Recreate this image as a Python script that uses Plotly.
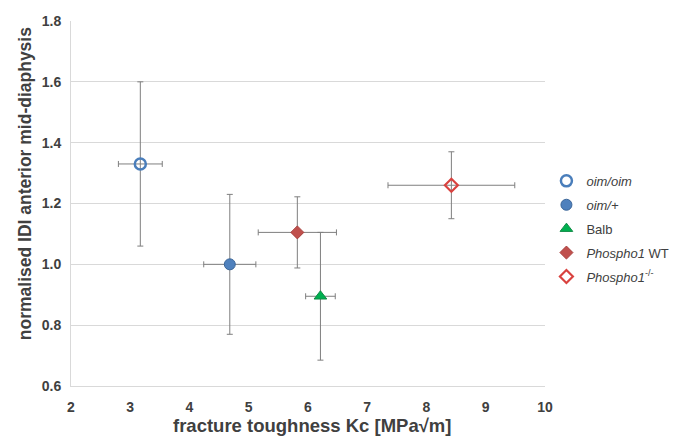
import plotly.graph_objects as go

names = ["<i>oim/oim</i>", "<i>oim/+</i>", "Balb", "<i>Phospho1</i> WT", "<i>Phospho1</i><sup>-/-</sup>"]
kc = [3.17, 4.68, 6.21, 5.82, 8.42]
kc_err = [0.37, 0.44, 0.25, 0.66, 1.07]
idi = [1.33, 1.00, 0.895, 1.105, 1.26]
idi_err = [0.27, 0.23, 0.21, 0.117, 0.11]

x_title = "fracture toughness Kc [MPa√m]"
y_title = "normalised IDI anterior mid-diaphysis"

symbols = ["circle-open", "circle", "triangle-up", "diamond", "diamond-open"]
fills = ["#4a7ebb", "#4f81bd", "#00b050", "#c0504d", "#d9423f"]
outlines = ["#4a7ebb", "#3b6699", "#0f8a45", "#a8413e", "#d9423f"]
lw = [2.5, 1, 1, 1, 2.2]
sizes = [11, 11, 11, 10, 10]

fig = go.Figure()
for i in range(len(names)):
    fig.add_trace(go.Scatter(
        x=[kc[i]], y=[idi[i]], mode="markers", name=names[i],
        legendgroup=str(i),
        marker=dict(symbol=symbols[i], size=sizes[i], color=fills[i],
                    line=dict(color=outlines[i], width=lw[i])),
        error_x=dict(type="data", array=[kc_err[i]], color="#7f7f7f", thickness=1, width=3),
        error_y=dict(type="data", array=[idi_err[i]], color="#7f7f7f", thickness=1, width=3),
    ))

fig.update_layout(
    width=677, height=437,
    margin=dict(l=71, r=132, t=21, b=51, autoexpand=False),
    paper_bgcolor="white", plot_bgcolor="white",
    font=dict(family="Liberation Sans, Arial, sans-serif", color="#404040"),
    showlegend=True,
    legend=dict(x=1.003, y=0.603, xanchor="left", yanchor="top",
                font=dict(size=13, color="#404040"), tracegroupgap=4,
                itemwidth=30, bgcolor="rgba(0,0,0,0)"),
    annotations=[
        dict(text="<b>" + y_title + "</b>", textangle=-90, xref="paper", yref="paper",
             x=-0.097, y=0.553, xanchor="center", yanchor="middle", showarrow=False,
             font=dict(size=17.5, color="#404040")),
        dict(text="<b>" + x_title + "</b>", xref="paper", yref="paper",
             x=0.508, y=-0.108, xanchor="center", yanchor="middle", showarrow=False,
             font=dict(size=18.5, color="#404040")),
    ],
)
fig.update_xaxes(
    range=[2, 10], dtick=1, tick0=2, showgrid=False, zeroline=False,
    showline=True, linecolor="#d9d9d9", linewidth=1, automargin=False,
    ticks="", ticklabelstandoff=8,
    tickfont=dict(size=14, color="#404040", weight="bold"),
)
fig.update_yaxes(
    range=[0.6, 1.8], dtick=0.2, tick0=0.6, tickformat=".1f",
    showgrid=True, gridcolor="#d9d9d9", gridwidth=1, zeroline=False,
    showline=True, linecolor="#d9d9d9", linewidth=1, automargin=False,
    ticks="", ticklabelstandoff=6,
    tickfont=dict(size=14, color="#404040", weight="bold"),
)
fig.write_html("out.html", config={"displayModeBar": False},
               post_script="document.body.style.margin='0px';document.body.style.overflow='hidden';")
